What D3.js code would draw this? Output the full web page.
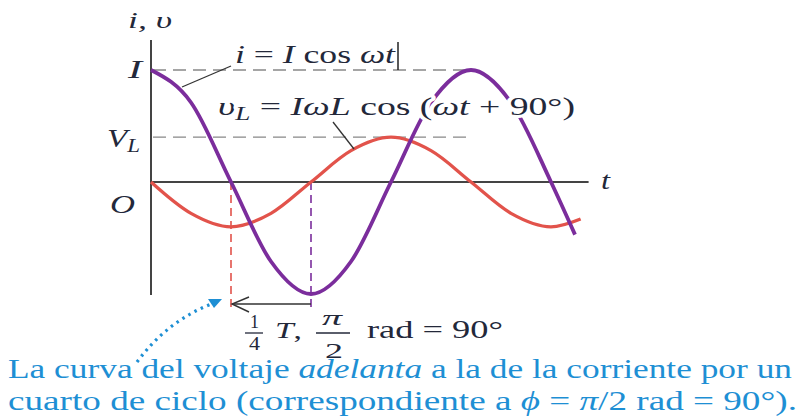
<!DOCTYPE html>
<html>
<head>
<meta charset="utf-8">
<script src="https://cdn.jsdelivr.net/npm/d3@7"></script>
<style>
  html, body { margin: 0; padding: 0; background: #fff; }
  svg { display: block; }
  text { font-family: "Liberation Serif", "Times New Roman", serif; }
</style>
</head>
<body>
<svg id="chart" width="803" height="420"></svg>
<script>
// Time is measured in quarter periods (1 = T/4 = 90°); values in units of the current amplitude I.
const currentT    = [0, 0.5, 1, 1.5, 2, 2.5, 3, 3.5, 4, 4.5, 5, 5.3];
const currentVals = [1, 0.71, 0, -0.71, -1, -0.71, 0, 0.71, 1, 0.71, 0, -0.47];
const voltageT    = [0, 0.5, 1, 1.5, 2, 2.5, 3, 3.5, 4, 4.5, 5, 5.37];
const voltageVals = [0, -0.28, -0.4, -0.28, 0, 0.28, 0.4, 0.28, 0, -0.28, -0.4, -0.33];
const ampLevels   = [{ name: "I", value: 1, endT: 4 }, { name: "V", value: 0.4, endT: 4.05 }];
const phaseMarks  = [1, 2];   // quarter-period markers under the axis
const tMax = 5.47;

const ink = "#23283a";
const purple = "#7b2d9c";
const red = "#e2534b";
const blue = "#1e8fd4";

const svg = d3.select("#chart");
const x = d3.scaleLinear().domain([0, 1]).range([151, 231]);
const y = d3.scaleLinear().domain([-1, 1]).range([294, 70]);

// axes
svg.append("line").attr("x1", x(0)).attr("x2", x(0)).attr("y1", 40).attr("y2", 295)
  .attr("stroke", "#444").attr("stroke-width", 2);
svg.append("line").attr("x1", x(0)).attr("x2", x(tMax)).attr("y1", y(0)).attr("y2", y(0))
  .attr("stroke", "#444").attr("stroke-width", 2);

// amplitude reference lines
svg.selectAll("line.amp").data(ampLevels).join("line").attr("class", "amp")
  .attr("x1", x(0) + 2).attr("x2", d => x(d.endT) - 4)
  .attr("y1", d => y(d.value)).attr("y2", d => y(d.value))
  .attr("stroke", "#888").attr("stroke-width", 1.3).attr("stroke-dasharray", "13,7");

// vertical markers at T/4 and T/2
svg.selectAll("line.mark").data(phaseMarks).join("line").attr("class", "mark")
  .attr("x1", d => x(d)).attr("x2", d => x(d))
  .attr("y1", y(0)).attr("y2", 311)
  .attr("stroke", (d, i) => i === 0 ? red : purple).attr("stroke-width", 1.6)
  .attr("stroke-dasharray", "8,5");

const line = d3.line().x(d => x(d[0])).y(d => y(d[1])).curve(d3.curveMonotoneX);

svg.append("path").datum(d3.zip(voltageT, voltageVals)).attr("d", line)
  .attr("fill", "none").attr("stroke", red).attr("stroke-width", 3.3);
svg.append("path").datum(d3.zip(currentT, currentVals)).attr("d", line)
  .attr("fill", "none").attr("stroke", purple).attr("stroke-width", 3.8);

// leader lines
svg.append("line").attr("x1", 182).attr("y1", 87).attr("x2", 231).attr("y2", 66)
  .attr("stroke", "#333").attr("stroke-width", 1.3);
svg.append("line").attr("x1", 333).attr("y1", 122).attr("x2", 354).attr("y2", 149)
  .attr("stroke", "#333").attr("stroke-width", 1.3);

// quarter-period arrow
svg.append("line").attr("x1", x(2)).attr("x2", x(1) + 1).attr("y1", 304).attr("y2", 304)
  .attr("stroke", "#333").attr("stroke-width", 1.4);
svg.append("path").attr("d", `M${x(1) + 18},297 L${x(1) + 1},304 L${x(1) + 18},312`)
  .attr("fill", "none").attr("stroke", "#333").attr("stroke-width", 1.4);

// text helper: parts are tspans; width stretches the run to a set length
function label(xp, yp, parts, size, opts = {}) {
  const t = svg.append("text").attr("x", xp).attr("y", yp)
    .attr("font-size", size).attr("fill", opts.fill || ink);
  if (opts.halo) t.attr("stroke", "#fff").attr("stroke-width", 6).attr("paint-order", "stroke")
    .attr("stroke-linejoin", "round");
  if (opts.width) t.attr("textLength", opts.width).attr("lengthAdjust", "spacingAndGlyphs");
  parts.forEach(p => {
    const s = t.append("tspan").text(p.t);
    if (p.i) s.attr("font-style", "italic");
    if (p.dy) s.attr("dy", p.dy);
    if (p.fs) s.attr("font-size", p.fs);
  });
  return t;
}

label(128, 28, [{ t: "i, υ", i: 1 }], 24, { width: 44 });
label(128, 78, [{ t: "I", i: 1 }], 25, { width: 14 });
label(107, 147, [{ t: "V", i: 1 }, { t: "L", i: 1, fs: 18, dy: 5 }], 26, { width: 33 });
label(110, 213, [{ t: "O", i: 1 }], 26, { width: 25 });
label(601, 189, [{ t: "t", i: 1 }], 25, { width: 9 });

label(235, 63, [{ t: "i", i: 1 }, { t: " = " }, { t: "I", i: 1 }, { t: " cos " }, { t: "ωt", i: 1 }], 25,
  { halo: 1, width: 160 });
svg.append("line").attr("x1", 398).attr("x2", 398).attr("y1", 42).attr("y2", 70)
  .attr("stroke", "#222").attr("stroke-width", 1.5);

label(218, 115, [{ t: "υ", i: 1 }, { t: "L", i: 1, fs: 18, dy: 5 }, { t: " = ", dy: -5 },
  { t: "IωL", i: 1 }, { t: " cos (" }, { t: "ωt", i: 1 }, { t: "  +  90°)" }], 25, { halo: 1, width: 357 });

// 1/4 T, π/2 rad = 90°
label(250, 328, [{ t: "1" }], 18, { width: 9 });
svg.append("line").attr("x1", 245).attr("x2", 263).attr("y1", 333).attr("y2", 333)
  .attr("stroke", ink).attr("stroke-width", 1.3);
label(249, 350, [{ t: "4" }], 18, { width: 11 });
label(275, 338, [{ t: "T", i: 1 }, { t: "," }], 24, { width: 27 });
label(322, 325, [{ t: "π", i: 1 }], 22, { width: 20 });
svg.append("line").attr("x1", 316).attr("x2", 350).attr("y1", 333).attr("y2", 333)
  .attr("stroke", ink).attr("stroke-width", 1.3);
label(325, 358, [{ t: "2" }], 22, { width: 18 });
label(367, 338, [{ t: "rad = 90°" }], 26, { width: 136 });

// caption
label(8, 378, [{ t: "La curva del voltaje " }, { t: "adelanta", i: 1 }, { t: " a la de la corriente por un" }], 28,
  { fill: blue, width: 784 });
label(8, 410, [{ t: "cuarto de ciclo (correspondiente a " }, { t: "ϕ", i: 1 }, { t: " = " }, { t: "π", i: 1 },
  { t: "/" }, { t: "2 rad = 90°)." }], 28, { fill: blue, width: 789 });

// dotted pointer towards the T/4 marker
svg.append("path").attr("d", "M137,362 Q168,320 214,303")
  .attr("fill", "none").attr("stroke", blue).attr("stroke-width", 3.2)
  .attr("stroke-dasharray", "2.5,4.5");
svg.append("path").attr("d", "M222,299 L208,299 L214,308 Z").attr("fill", blue);
</script>
</body>
</html>
